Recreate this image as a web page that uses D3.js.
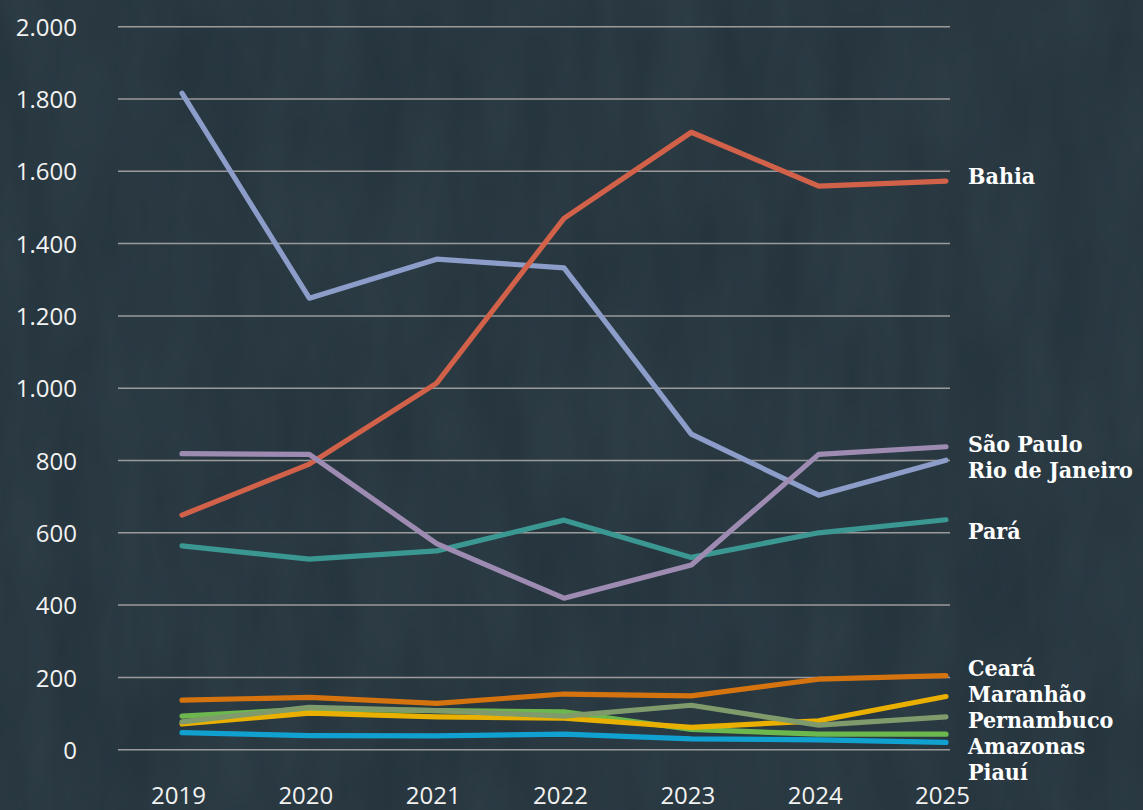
<!DOCTYPE html>
<html>
<head>
<meta charset="utf-8">
<script src="https://cdn.jsdelivr.net/npm/d3@7"></script>
<style>
  html, body { margin: 0; padding: 0; background: #26353e; overflow: hidden; }
  svg { display: block; }
</style>
</head>
<body>
<svg id="chart" width="1143" height="810"></svg>
<script>
// ---------- data ----------
const years = ["2019", "2020", "2021", "2022", "2023", "2024", "2025"];
const yTicks = [0, 200, 400, 600, 800, 1000, 1200, 1400, 1600, 1800, 2000];

const piaui      = [47, 39, 38, 43, 30, 27, 20];
const amazonas   = [93, 112, 108, 105, 56, 43, 43];
const maranhao   = [71, 101, 91, 87, 62, 80, 147];
const pernambuco = [77, 117, 108, 93, 123, 68, 91];
const ceara      = [137, 145, 128, 154, 149, 195, 205];
const para       = [564, 527, 550, 635, 532, 600, 636];
const rioDeJaneiro = [1816, 1249, 1357, 1333, 873, 704, 801];
const bahia      = [649, 790, 1014, 1470, 1708, 1559, 1573];
const saoPaulo   = [819, 817, 570, 419, 511, 817, 838];

const seriesNames = ["Piauí", "Amazonas", "Maranhão", "Pernambuco", "Ceará", "Pará", "Rio de Janeiro", "Bahia", "São Paulo"];
const seriesValues = [piaui, amazonas, maranhao, pernambuco, ceara, para, rioDeJaneiro, bahia, saoPaulo];
const seriesColors = ["#11a1d1", "#6cb84f", "#eab000", "#7f9a6b", "#d5730f", "#3b9791", "#8d9dca", "#d2614a", "#9d8bb2"];

// ---------- layout ----------
const W = 1143, H = 810;
const plotLeft = 118, plotRight = 950;
const plotTop = 26.7, plotBottom = 749.7;
// hand-placement adjustments of the end labels (pixels), as in the original
const labelNudge = { "Bahia": -7, "São Paulo": 1, "Rio de Janeiro": 1, "Pará": 9 };
const clusterNudge = 5;

const svg = d3.select("#chart");

// background with subtle texture
const defs = svg.append("defs");
const filt = defs.append("filter").attr("id", "tex").attr("x", 0).attr("y", 0).attr("width", 1).attr("height", 1);
filt.append("feTurbulence").attr("type", "fractalNoise").attr("baseFrequency", "0.02 0.006").attr("numOctaves", 3).attr("seed", 7).attr("result", "n");
filt.append("feColorMatrix").attr("in", "n").attr("type", "matrix")
  .attr("values", "0 0 0 0 0.19  0 0 0 0 0.26  0 0 0 0 0.30  0 0 0 0.35 -0.05");
svg.append("rect").attr("width", W).attr("height", H).attr("fill", "#25343d");
svg.append("rect").attr("width", W).attr("height", H).attr("filter", "url(#tex)").attr("opacity", 0.4);

const x = d3.scalePoint().domain(years).range([plotLeft + 64, plotRight - 4]);
const y = d3.scaleLinear().domain([0, 2000]).range([plotBottom, plotTop]);

// gridlines
svg.append("g").selectAll("line").data(yTicks).join("line")
  .attr("x1", plotLeft).attr("x2", plotRight)
  .attr("y1", d => y(d)).attr("y2", d => y(d))
  .attr("stroke", "#9b9b9b").attr("stroke-width", 1.5);

// y axis labels
const fmt = d => d3.format(",")(d).replace(/,/g, ".");
const yAxis = d3.axisLeft(y).tickValues(yTicks).tickFormat(fmt).tickSize(0).tickPadding(0);
const gy = svg.append("g").attr("transform", "translate(77,0)").call(yAxis);
gy.select(".domain").remove();
gy.selectAll("text")
  .attr("fill", "#f2f2f2")
  .style("font-family", "'Open Sans', sans-serif")
  .style("font-size", "24px")
  .attr("dy", "0.36em");

// x axis labels
const xAxis = d3.axisBottom(x).tickSize(0).tickPadding(0);
const gx = svg.append("g").attr("transform", "translate(-4,804)").call(xAxis);
gx.select(".domain").remove();
gx.selectAll("text")
  .attr("fill", "#f2f2f2")
  .attr("dy", 0)
  .style("font-family", "'Open Sans', sans-serif")
  .style("font-size", "24px");

// lines
const line = d3.line().x((d, i) => x(years[i])).y(d => y(d));
svg.append("g").selectAll("path").data(seriesValues).join("path")
  .attr("d", d => line(d))
  .attr("fill", "none")
  .attr("stroke", (d, i) => seriesColors[i])
  .attr("stroke-width", 5.2)
  .attr("stroke-linecap", "round")
  .attr("stroke-linejoin", "round");

// end labels with simple collision avoidance
const labels = seriesNames.map((n, i) => ({ name: n, target: y(seriesValues[i][years.length - 1]), pos: y(seriesValues[i][years.length - 1]) }));
labels.sort((a, b) => a.target - b.target);
const gap = 26;
for (let iter = 0; iter < 200; iter++) {
  for (let i = 1; i < labels.length; i++) {
    const d = labels[i].pos - labels[i - 1].pos;
    if (d < gap) {
      const push = (gap - d) / 2;
      labels[i].pos += push;
      labels[i - 1].pos -= push;
    }
  }
}
labels.forEach(l => { l.pos += (l.name in labelNudge) ? labelNudge[l.name] : clusterNudge; });

svg.append("g").selectAll("text").data(labels).join("text")
  .attr("x", plotRight + 18)
  .attr("y", d => d.pos + 2)
  .attr("dy", "0.36em")
  .attr("fill", "#ffffff")
  .style("font-family", "'DejaVu Serif Condensed', 'DejaVu Serif', serif")
  .style("font-weight", "bold")
  .style("font-size", "23px")
  .text(d => d.name);
</script>
</body>
</html>
